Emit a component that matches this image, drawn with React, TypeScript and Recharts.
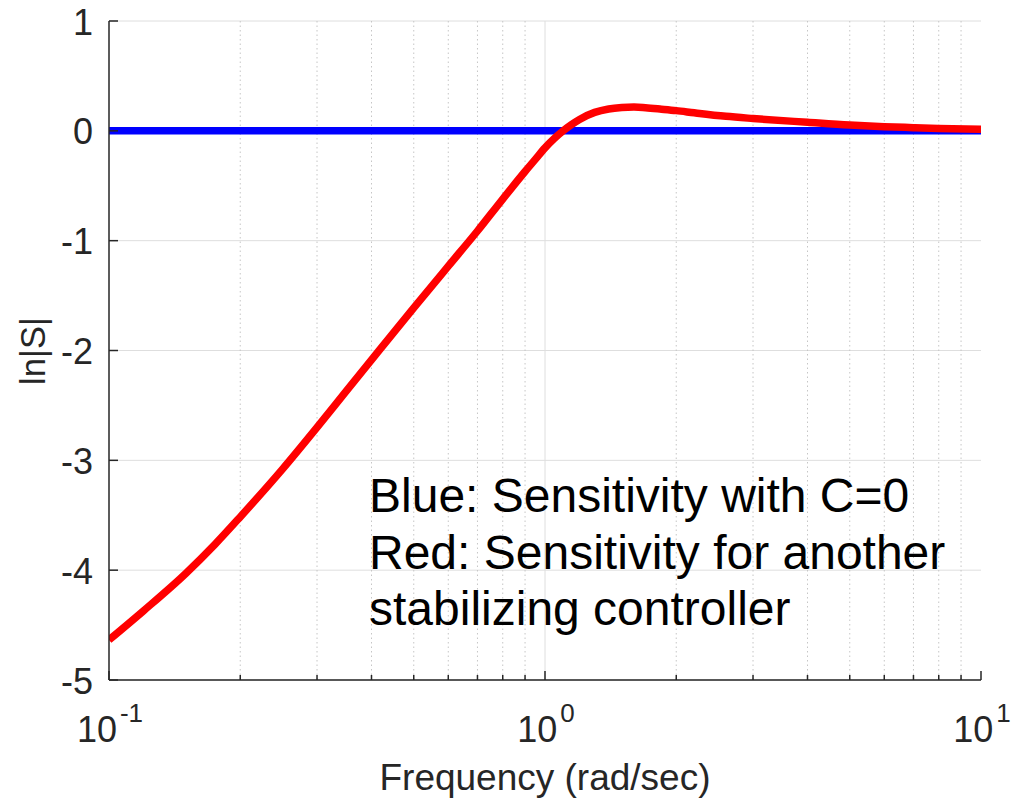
import React from "react";
import { LineChart, Line, XAxis, YAxis, CartesianGrid } from "recharts";

// ln|S|, frequency in rad/sec
const freqs = [
  0.1, 0.12, 0.15, 0.175, 0.2, 0.25, 0.3, 0.35, 0.4, 0.45, 0.5, 0.6, 0.7, 0.8, 0.9,
  0.95, 1.0, 1.05, 1.1, 1.15, 1.2, 1.3, 1.4, 1.5, 1.6, 1.7, 1.85, 2.0, 2.2, 2.6, 3.0,
  4.0, 5.0, 6.0, 7.0, 8.0, 10.0,
];
const redLnS = [
  -4.635, -4.37, -4.03, -3.765, -3.515, -3.08, -2.7, -2.37, -2.085, -1.834, -1.612,
  -1.232, -0.912, -0.621, -0.37, -0.26, -0.155, -0.07, 0.0, 0.057, 0.104, 0.168,
  0.199, 0.212, 0.216, 0.21, 0.197, 0.184, 0.164, 0.132, 0.112, 0.078, 0.053, 0.038,
  0.029, 0.022, 0.014,
];
const blueFreqs = [0.1, 10];
const blueLnS = [0, 0];

const xMajor = [0.1, 1, 10];
const xMinor = [0.2, 0.3, 0.4, 0.5, 0.6, 0.7, 0.8, 0.9, 2, 3, 4, 5, 6, 7, 8, 9];
const yTicks = [-5, -4, -3, -2, -1, 0, 1];

const notes = [
  "Blue: Sensitivity with C=0",
  "Red: Sensitivity for another",
  "stabilizing controller",
];

const W = 1013;
const H = 798;
const AXIS = "#262626";
const FONT = '"Liberation Sans", Arial, Helvetica, sans-serif';

const redData = freqs.map((f, i) => ({ f, v: redLnS[i] }));
const blueData = blueFreqs.map((f, i) => ({ f, v: blueLnS[i] }));
const xAll = [...xMajor, ...xMinor].sort((a, b) => a - b);
const isMajor = (v: number) => xMajor.includes(v);

function BottomTick({ x, y, payload }: any) {
  const v = payload.value;
  const major = isMajor(v);
  const exp = Math.round(Math.log10(v));
  return (
    <g>
      <line x1={x} x2={x} y1={y} y2={y - (major ? 9 : 5)} stroke={AXIS} strokeWidth={1.5} />
      {major && (
        <text x={x + 1} y={y + 62} textAnchor="middle" fill={AXIS} fontSize={36} fontFamily={FONT}>
          10
          <tspan dx={3} dy={-20} fontSize={26}>
            {`${exp}`}
          </tspan>
        </text>
      )}
    </g>
  );
}

function TopTick({ x, y, payload }: any) {
  const major = isMajor(payload.value);
  return <line x1={x} x2={x} y1={y} y2={y + (major ? 9 : 5)} stroke={AXIS} strokeWidth={1.5} />;
}

function LeftTick({ x, y, payload }: any) {
  return (
    <g>
      <line x1={x} x2={x + 9} y1={y} y2={y} stroke={AXIS} strokeWidth={1.5} />
      <text x={x - 16} y={y + 13.5} textAnchor="end" fill={AXIS} fontSize={36} fontFamily={FONT}>
        {payload.value}
      </text>
    </g>
  );
}

function RightTick({ x, y }: any) {
  return <line x1={x} x2={x - 9} y1={y} y2={y} stroke={AXIS} strokeWidth={1.5} />;
}

export default function App() {
  return (
    <div style={{ position: "absolute", left: 0, top: 0, width: W, height: H, background: "#fff" }}>
      <LineChart width={W} height={H} margin={{ top: 21, right: 32, bottom: 0, left: 0 }}>
        <CartesianGrid vertical={false} stroke="#dedede" strokeWidth={1} />
        <CartesianGrid horizontal={false} verticalValues={xMinor} stroke="#c6c6c6" strokeDasharray="1.5 3" />
        <CartesianGrid horizontal={false} verticalValues={[1]} stroke="#dedede" />
        <XAxis
          dataKey="f"
          type="number"
          scale="log"
          domain={[0.1, 10]}
          allowDataOverflow
          ticks={xAll}
          interval={0}
          height={118}
          tickSize={0}
          tickMargin={0}
          tickLine={false}
          axisLine={{ stroke: AXIS, strokeWidth: 1.5 }}
          tick={<BottomTick />}
        />
        <XAxis
          xAxisId="top"
          orientation="top"
          dataKey="f"
          type="number"
          scale="log"
          domain={[0.1, 10]}
          allowDataOverflow
          ticks={xAll}
          interval={0}
          height={0}
          tickSize={0}
          tickMargin={0}
          tickLine={false}
          axisLine={{ stroke: AXIS, strokeWidth: 1.5 }}
          tick={<TopTick />}
        />
        <YAxis
          type="number"
          domain={[-5, 1]}
          allowDataOverflow
          ticks={yTicks}
          interval={0}
          width={109}
          tickSize={0}
          tickMargin={0}
          tickLine={false}
          axisLine={{ stroke: AXIS, strokeWidth: 1.5 }}
          tick={<LeftTick />}
        />
        <YAxis
          yAxisId="right"
          orientation="right"
          type="number"
          domain={[-5, 1]}
          allowDataOverflow
          ticks={yTicks}
          interval={0}
          width={0}
          tickSize={0}
          tickMargin={0}
          tickLine={false}
          axisLine={{ stroke: AXIS, strokeWidth: 1.5 }}
          tick={<RightTick />}
        />
        <Line
          data={blueData}
          dataKey="v"
          type="linear"
          stroke="#0000ff"
          strokeWidth={7.5}
          dot={false}
          activeDot={false}
          isAnimationActive={false}
        />
        <Line
          data={redData}
          dataKey="v"
          type="monotoneX"
          stroke="#ff0000"
          strokeWidth={7.5}
          dot={false}
          activeDot={false}
          isAnimationActive={false}
        />
      </LineChart>
      <svg
        width={W}
        height={H}
        style={{ position: "absolute", left: 0, top: 0, pointerEvents: "none" }}
        fontFamily={FONT}
      >
        <text x={545} y={790} textAnchor="middle" fill={AXIS} fontSize={37}>
          Frequency (rad/sec)
        </text>
        <text x={45} y={351} textAnchor="middle" fill={AXIS} fontSize={34.5} transform="rotate(-90 45 351)">
          ln|S|
        </text>
        {notes.map((t, i) => (
          <text key={t} x={369} y={512 + i * 56.7} fill="#000" fontSize={48}>
            {t}
          </text>
        ))}
      </svg>
    </div>
  );
}
